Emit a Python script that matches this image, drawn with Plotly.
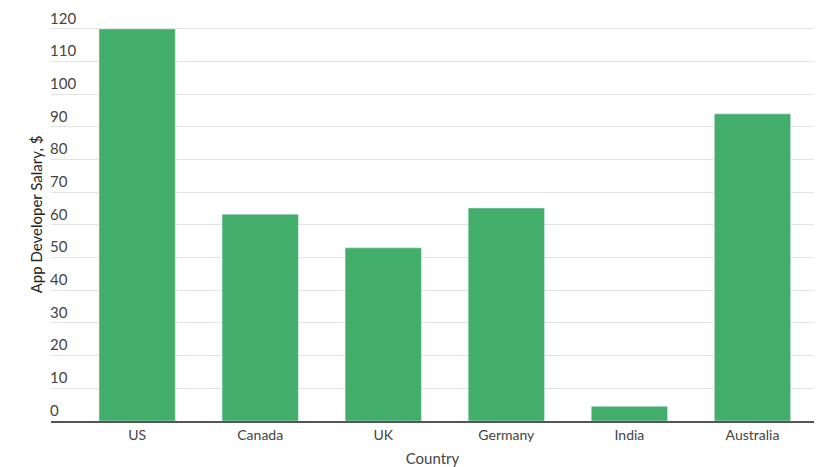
import plotly.graph_objects as go

# app developer salary by country
countries = ["US", "Canada", "UK", "Germany", "India", "Australia"]
salaries = [120, 63.3, 53, 65.2, 4.5, 94]
y_ticks = list(range(0, 121, 10))

fig = go.Figure()
fig.add_trace(go.Bar(x=countries, y=salaries, marker_color="#43ae6b", width=0.62))

# page body adds an 8px margin, so the figure is a bit smaller
fig.update_layout(
    width=827, height=459,
    margin=dict(l=43, r=21, t=0, b=46),
    plot_bgcolor="white", paper_bgcolor="white",
    font=dict(family="Lato", color="#444", size=14),
    showlegend=False,
)
fig.update_xaxes(
    range=[-0.7, 5.5], automargin=False,
    showline=True, linecolor="#555", linewidth=2,
    ticks="", tickfont=dict(size=14, color="#444"),
    title=dict(text="Country", font=dict(size=15, color="#444")),
)
fig.update_yaxes(
    range=[0, 126.4], tickvals=y_ticks, automargin=True,
    ticklabelposition="inside top", ticklabelstandoff=-4,
    tickfont=dict(size=15, color="#444"),
    gridcolor="#e3e3e3", gridwidth=1, zeroline=False,
    title=dict(text="App Developer Salary, $", font=dict(size=15, color="#222"), standoff=3),
)

fig.write_html("out.html")
